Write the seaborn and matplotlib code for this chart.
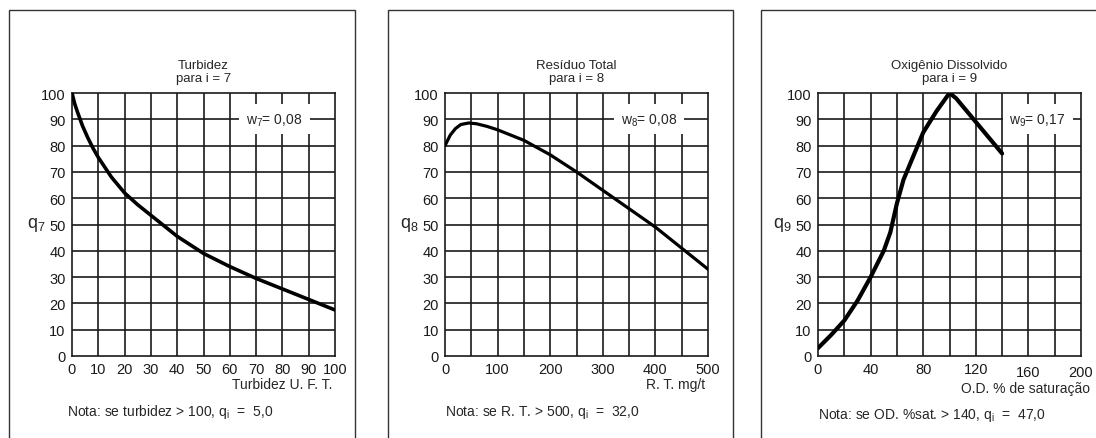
import matplotlib
matplotlib.use("Agg")
import matplotlib.pyplot as plt
import matplotlib.transforms as mtransforms
from matplotlib.patches import Rectangle
import seaborn as sns
import pandas as pd

# curve readings from the reference
turb_x = [0, 1, 2, 4, 6, 8, 10, 15, 20, 25, 30, 40, 50, 60, 70, 80, 90, 100]
turb_q = [100, 96, 93, 87.5, 83, 79, 75.5, 68, 62, 57.5, 53.5, 45.5, 39, 34, 29.5, 25.5, 21.5, 17.5]

rt_x = [0, 10, 20, 30, 45, 60, 80, 100, 150, 200, 250, 300, 350, 400, 450, 500]
rt_q = [80, 84, 86.5, 88, 88.6, 88.3, 87.3, 86, 82, 76.5, 70, 63, 56, 49, 41, 33]

od_x = [0, 10, 20, 30, 40, 50, 55, 60, 65, 70, 80, 90, 100, 105, 110, 120, 130, 140]
od_q = [3, 8, 13.5, 21, 30, 40, 47, 58, 67, 73, 85, 93, 100, 98, 95, 89, 83, 77]

titles = ["Turbidez\npara i = 7", "Resíduo Total\npara i = 8", "Oxigênio Dissolvido\npara i = 9"]
ylabels = [r"$\mathregular{q_7}$", r"$\mathregular{q_8}$", r"$\mathregular{q_9}$"]
xlabels = ["Turbidez U. F. T.", "R. T. mg/t", "O.D. % de saturação"]
weights = [r"$\mathregular{w_7}$= 0,08", r"$\mathregular{w_8}$= 0,08", r"$\mathregular{w_9}$= 0,17"]
notes = [r"Nota: se turbidez > 100, $\mathregular{q_i}$  =  5,0",
         r"Nota: se R. T. > 500, $\mathregular{q_i}$  =  32,0",
         r"Nota: se OD. %sat. > 140, $\mathregular{q_i}$  =  47,0"]
xmax = [100, 500, 200]
xgrid = [10, 50, 20]
xticks = [list(range(0, 101, 10)), list(range(0, 501, 100)), list(range(0, 201, 40))]
wpos = [77, 388, 167]
xlab_right = [0.99, 0.99, 1.035]
xlab_y = [-0.105, -0.105, -0.12]
note_y = [-0.21, -0.21, -0.222]
line_w = [2.6, 2.3, 3.0]

sns.set_style("white")
plt.rcParams["font.family"] = ["Liberation Sans", "DejaVu Sans"]
plt.rcParams["mathtext.fontset"] = "custom"
plt.rcParams["mathtext.rm"] = "Liberation Sans"
plt.rcParams["mathtext.it"] = "Liberation Sans"

fig = plt.figure(figsize=(10.96, 4.39), dpi=100)
W, H = 1096, 439

lefts = [72, 445, 818]
frames = [(9, 355), (388, 733), (761, 1110)]
data = [(turb_x, turb_q), (rt_x, rt_q), (od_x, od_q)]

for i in range(3):
    fx0, fx1 = frames[i]
    fig.add_artist(Rectangle((fx0 / W, -0.1), (fx1 - fx0) / W, 1.1 - 11 / H,
                             transform=fig.transFigure, fill=False,
                             edgecolor="#333333", linewidth=1.0))

    ax = fig.add_axes([lefts[i] / W, 1 - 357 / H, 263 / W, 263 / H])
    df = pd.DataFrame({"x": data[i][0], "q": data[i][1]})
    sns.lineplot(data=df, x="x", y="q", ax=ax, color="black",
                 linewidth=line_w[i], zorder=5)

    ax.set_xlim(0, xmax[i])
    ax.set_ylim(0, 100)
    for gx in range(xgrid[i], xmax[i], xgrid[i]):
        ax.axvline(gx, color="#1a1a1a", linewidth=1.2, zorder=1)
    for gy in range(10, 100, 10):
        ax.axhline(gy, color="#1a1a1a", linewidth=1.2, zorder=1)
    for s in ax.spines.values():
        s.set_color("#1a1a1a")
        s.set_linewidth(1.2)

    ax.set_xticks(xticks[i])
    ax.set_yticks(range(0, 101, 10))
    ax.tick_params(axis="both", direction="out", length=3, width=1.0,
                   labelsize=10.5, pad=1.5, colors="#1a1a1a")
    ax.set_xlabel("")
    ax.set_ylabel("")

    if i == 2:
        for lab in ax.get_xticklabels()[4:]:
            lab.set_transform(lab.get_transform() +
                              mtransforms.ScaledTranslation(0, -2 / 72, fig.dpi_scale_trans))

    ax.text(0.5, 1.035, titles[i], transform=ax.transAxes, ha="center",
            va="bottom", fontsize=9.5, linespacing=1.05)
    ax.text(-0.135, 0.5, ylabels[i], transform=ax.transAxes, ha="center",
            va="center", fontsize=13)
    ax.text(xlab_right[i], xlab_y[i], xlabels[i], transform=ax.transAxes,
            ha="right", va="center", fontsize=10)
    ax.text(-0.02 if i == 0 else 0.0, note_y[i], notes[i], transform=ax.transAxes,
            ha="left", va="center", fontsize=10)
    ax.text(wpos[i], 90, weights[i], ha="center", va="center", fontsize=10,
            zorder=6, bbox=dict(facecolor="white", edgecolor="none", pad=5))

fig.savefig("out.png", dpi=100)
